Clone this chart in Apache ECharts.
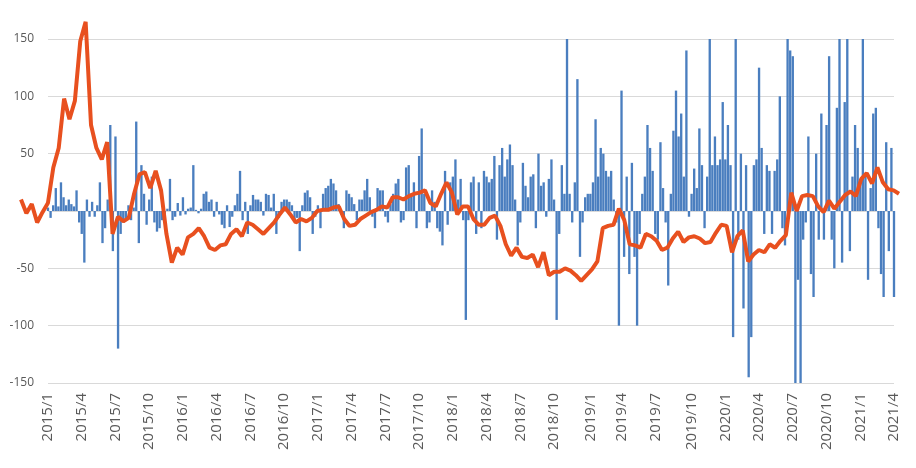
<!DOCTYPE html>
<html>
<head>
<meta charset="utf-8">
<script src="https://cdn.jsdelivr.net/npm/echarts@6/dist/echarts.min.js"></script>
<style>
  html, body { margin: 0; padding: 0; background: #fff; }
  #main { width: 916px; height: 468px; }
</style>
</head>
<body>
<div id="main"></div>
<script>
// quarter tick labels on the x axis
var quarterLabels = [
  "2015/1", "2015/4", "2015/7", "2015/10", "2016/1", "2016/4", "2016/7", "2016/10",
  "2017/1", "2017/4", "2017/7", "2017/10", "2018/1", "2018/4", "2018/7", "2018/10",
  "2019/1", "2019/4", "2019/7", "2019/10", "2020/1", "2020/4", "2020/7", "2020/10",
  "2021/1", "2021/4"
];

// weekly bars (blue)
var barValues = [
  3, -6, 5, 20, 4, 25, 12, 5, 10, 6, 4, 18, -10, -20, -45, 10, -5, 8, -5, 5, 25, -28, -15, 10, 75, -35, 65, -120,
  -20, -10, -8, 5, -8, 3, 78, -28, 40, 15, -12, 10, 30, -10, -18, -15, -8, -3, 2, 28, -8, -5, 7, -4, 12, -3, 2, 3, 40, 1, -2, 2, 15, 17, 8, 10, -5, 8, -3,
  -12, -15, 5, -14, -5, 5, 15, 35, -8, 8, -20, 5, 14, 10, 10, 8, -4, 15, 14, 3, 15, -20, -6, 8, 10, 10, 8, 5, -8, -6, -35, 5, 16, 18, 12, -20, -5, 5, -15,
  15, 20, 22, 28, 24, 18, 6, -3, -15, 18, 15, 12, 6, -8, 10, 10, 18, 28, 12, -5, -15, 20, 18, 18, -5, -10, 6, 15, 24, 28, -10, -8, 38, 40, 15, 25, -15,
  48, 72, 15, -15, -10, 18, 8, -15, -18, -30, 35, -12, 25, 30, 45, 10, 28, -8, -95, -8, 25, 30, -20, 25, -15, 35, 30, 25, 28, 48, -25, 40, 55, 30, 45, 58, 40, 10, -30,
  -10, 42, 22, 12, 30, 32, -15, 50, 22, 25, -5, 28, 45, 10, -95, -20, 40, 15, 155, 15, -10, 25, 115, -40, -10, 12, 15, 15, 25, 80, 30, 55, 50, 35, 30, 35, 10, -10,
  -100, 105, -40, 30, -55, 42, -40, -100, -20, 15, 30, 75, 55, 35, -20, -25, 60, 20, -10, -65, 15, 70, 105, 65, 85, 30, 140, -5, 15, 37, 20, 72, 40, -15, 30, 155, 40, 65, 40, 45,
  95, 45, 75, 40, -110, 155, -25, 50, -85, 40, -145, -110, 40, 45, 125, 55, -20, 40, 35, -20, 35, 45, 100, -15, -30, 155, 140, 135, -155, -60, -155, -25, -10, 65,
  -55, -75, 50, -25, 85, -25, 75, 135, -25, -50, 90, 155, -45, 95, 155, -35, 30, 75, 55, 25, 155, 30, -60, 20, 85, 90, -15, -55, -75, 60, -35, 55, -75
];

// biweekly line (orange), on its own wider axis
var lineValues = [
  10, -2, 6, -10, -1, 7, 38, 55, 98, 80, 96, 148, 165, 75, 55, 45, 60, -20, -5,
  -9, -6, 15, 32, 34, 20, 35, 18, -20, -45, -32, -38, -23, -20, -15, -22, -32, -34,
  -30,
  -29, -20, -16, -22, -10, -12, -16, -20, -15, -10, -3, 3, -3, -10, -7, -9, -6,
  0,
  1, 1, 3, 4, -7, -13, -12, -7, -4, -1, 1, 4, 3, 12, 12, 10, 13, 15,
  16,
  18, 7, 4, 15, 25, 16, -3, 4, 4, -7, -12, -12, -6, -4, -13, -29, -39,
  -32,
  -40, -41, -38, -49, -36, -56, -53, -53, -50, -52, -56, -61, -56, -51, -44, -15, -13, -12,
  2,
  -8, -29, -30, -32, -20, -22, -26, -34, -32, -24, -18, -27, -23, -22, -24, -28, -27,
  -19,
  -12, -13, -36, -22, -17, -44, -38, -34, -36, -29, -32, -26, -21, 16, 0, 13, 14,
  13,
  4, -1, 9, 2, 8, 14, 17, 13, 28, 33, 24, 38, 25, 19, 18, 15
];

// weekly dates from 2015/1/5
var weekDates = [];
var start = Date.UTC(2015, 0, 5);
for (var i = 0; i < barValues.length; i++) {
  var d = new Date(start + i * 7 * 86400000);
  weekDates.push(d.getUTCFullYear() + "/" + (d.getUTCMonth() + 1) + "/" + d.getUTCDate());
}
var lineDates = [];
for (var k = 0; k < lineValues.length; k++) {
  lineDates.push(weekDates[Math.min(k * 2, weekDates.length - 1)]);
}

function monthKey(s) {
  var p = s.split("/");
  return p[0] + "/" + p[1];
}

var myChart = echarts.init(document.getElementById("main"));
myChart.setOption({
  animation: false,
  textStyle: { fontFamily: "Open Sans" },
  grid: [
    { left: 48, right: 22, top: 39, bottom: 85 },
    { left: 21, right: 17, top: 39, bottom: 85 }
  ],
  xAxis: [
    {
      type: "category",
      gridIndex: 0,
      data: weekDates,
      boundaryGap: false,
      axisLine: { show: false },
      axisTick: { show: false },
      splitLine: { show: false },
      axisLabel: {
        rotate: 90,
        margin: 10,
        fontSize: 15,
        color: "#595959",
        interval: function (idx, val) {
          var m = monthKey(val);
          if (quarterLabels.indexOf(m) < 0) return false;
          return idx === 0 || monthKey(weekDates[idx - 1]) !== m;
        },
        formatter: function (val) {
          return monthKey(val);
        }
      }
    },
    {
      type: "category",
      gridIndex: 1,
      data: lineDates,
      boundaryGap: false,
      show: false
    }
  ],
  yAxis: [
    {
      type: "value",
      gridIndex: 0,
      min: -150,
      max: 150,
      interval: 50,
      axisLine: { show: false },
      axisTick: { show: false },
      splitLine: { lineStyle: { color: "#d9d9d9", width: 1 } },
      axisLabel: {
        color: "#595959",
        fontSize: 12,
        margin: 14,
        formatter: function (v) {
          return v === 0 ? "" : v;
        }
      }
    },
    {
      type: "value",
      gridIndex: 1,
      min: -150,
      max: 150,
      show: false
    }
  ],
  series: [
    {
      name: "bars",
      type: "bar",
      xAxisIndex: 0,
      yAxisIndex: 0,
      data: barValues,
      barCategoryGap: "10%",
      itemStyle: { color: "#4a7ebf" }
    },
    {
      name: "line",
      type: "line",
      xAxisIndex: 1,
      yAxisIndex: 1,
      data: lineValues,
      showSymbol: false,
      clip: false,
      z: 5,
      lineStyle: { color: "#e8501f", width: 4 }
    }
  ]
});
</script>
</body>
</html>
